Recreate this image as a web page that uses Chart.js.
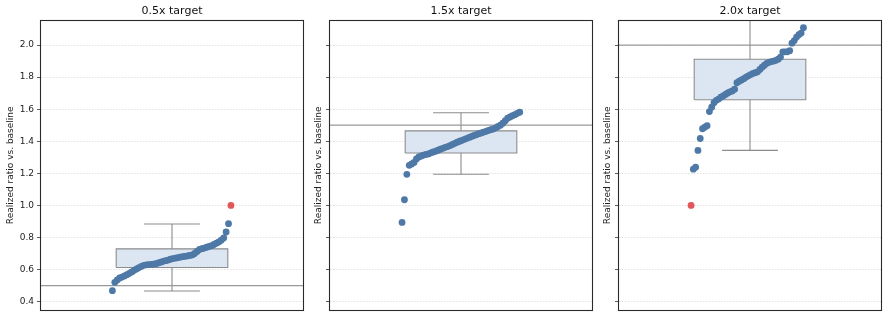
<!DOCTYPE html>
<html><head><meta charset="utf-8">
<script src="https://cdn.jsdelivr.net/npm/chart.js@4.4.0/dist/chart.umd.min.js"></script>
<style>
html,body{margin:0;padding:0;background:#fff;}
#wrap{position:relative;width:889px;height:318px;overflow:hidden;background:#fff;}
canvas{position:absolute;top:0;}
</style></head><body>
<div id="wrap">
<canvas id="c0" width="307" height="318" style="left:0px"></canvas>
<canvas id="c1" width="307" height="318" style="left:289px"></canvas>
<canvas id="c2" width="307" height="318" style="left:578px"></canvas>
</div>
<script>
// ---- data ----
const panelTitles = ['0.5x target', '1.5x target', '2.0x target'];
const targets = [0.5, 1.5, 2.0];
const yTicks = [0.4, 0.6, 0.8, 1.0, 1.2, 1.4, 1.6, 1.8, 2.0];
const yLabel = 'Realized ratio vs. baseline';

const ratios05 = [0.468,0.520,0.535,0.547,0.553,0.560,0.568,0.576,0.585,0.595,
  0.604,0.612,0.620,0.626,0.629,0.631,0.632,0.633,0.636,0.641,
  0.646,0.651,0.655,0.659,0.664,0.668,0.671,0.674,0.677,0.680,
  0.682,0.685,0.688,0.691,0.700,0.713,0.725,0.730,0.734,0.739,
  0.744,0.749,0.756,0.764,0.772,0.783,0.797,0.834,0.886,1.000];
const ratios15 = [0.894,1.035,1.194,1.250,1.258,1.268,1.290,1.302,1.308,1.314,
  1.318,1.321,1.328,1.333,1.338,1.344,1.350,1.356,1.362,1.367,
  1.373,1.380,1.387,1.394,1.400,1.406,1.412,1.418,1.424,1.430,
  1.436,1.441,1.447,1.452,1.457,1.462,1.467,1.472,1.477,1.484,
  1.492,1.500,1.513,1.528,1.544,1.552,1.559,1.566,1.574,1.581];
const ratios20 = [1.000,1.226,1.238,1.343,1.417,1.478,1.488,1.497,1.585,1.612,
  1.640,1.655,1.663,1.675,1.683,1.692,1.701,1.708,1.714,1.725,
  1.765,1.775,1.782,1.790,1.800,1.808,1.816,1.823,1.828,1.833,
  1.848,1.862,1.874,1.886,1.892,1.897,1.900,1.905,1.912,1.925,
  1.957,1.958,1.958,1.965,2.012,2.028,2.050,2.065,2.075,2.108];
const highlighted05 = [49];
const highlighted15 = [];
const highlighted20 = [0];

const boxQ1 = [0.613, 1.327, 1.659];
const boxQ3 = [0.729, 1.465, 1.911];
const whiskerLow = [0.466, 1.194, 1.343];
const whiskerHigh = [0.884, 1.578, 2.25];

// ---- layout / style ----
const series = [ratios05, ratios15, ratios20];
const highlights = [highlighted05, highlighted15, highlighted20];
const spreads = [[-0.455, 0.450], [-0.450, 0.448], [-0.450, 0.408]];
const BOX_HALF = 0.426, CAP_HALF = 0.213;
const BLUE = '#4e79a7', RED = '#e15759', GREY = '#8c8c8c';

Chart.defaults.font.family = '"DejaVu Sans", sans-serif';

const framePlugin = {
  id: 'frame',
  afterDatasetsDraw(chart, args, opts) {
    const {ctx, chartArea: a} = chart;
    ctx.save();
    ctx.strokeStyle = '#2a2a2a';
    ctx.lineWidth = 1.1;
    ctx.strokeRect(Math.round(a.left) - 0.5, Math.round(a.top) - 0.5,
      Math.round(a.right - a.left) + 1, Math.round(a.bottom - a.top) + 1);
    ctx.fillStyle = '#111';
    ctx.font = '11px "DejaVu Sans", sans-serif';
    ctx.textAlign = 'center';
    ctx.textBaseline = 'middle';
    ctx.fillText(opts.text, (a.left + a.right) / 2, 11.5);
    ctx.restore();
  }
};

function line(data, color, width, extra) {
  return Object.assign({data, showLine: true, borderColor: color, borderWidth: width,
    pointRadius: 0, fill: false, tension: 0}, extra || {});
}

for (let k = 0; k < 3; k++) {
  const vals = series[k];
  const N = vals.length;
  const [s, e] = spreads[k];
  const pts = vals.map((v, i) => ({x: s + i * (e - s) / (N - 1), y: v}));
  const red = pts.filter((p, i) => highlights[k].includes(i));
  const blue = pts.filter((p, i) => !highlights[k].includes(i));
  const q1 = boxQ1[k], q3 = boxQ3[k], wl = whiskerLow[k], wh = whiskerHigh[k], t = targets[k];

  const datasets = [
    {data: red, pointRadius: 3.4, pointBackgroundColor: RED, pointBorderWidth: 0, showLine: false},
    {data: blue, pointRadius: 3.4, pointBackgroundColor: BLUE, pointBorderWidth: 0, showLine: false},
    line([{x: -1.1, y: t}, {x: 1.1, y: t}], '#999999', 1.3),
    line([{x: 0, y: q3}, {x: 0, y: wh}], GREY, 1.1),
    line([{x: 0, y: q1}, {x: 0, y: wl}], GREY, 1.1),
    line([{x: -CAP_HALF, y: wh}, {x: CAP_HALF, y: wh}], GREY, 1.1),
    line([{x: -CAP_HALF, y: wl}, {x: CAP_HALF, y: wl}], GREY, 1.1),
    line([{x: -BOX_HALF, y: q1}, {x: BOX_HALF, y: q1}, {x: BOX_HALF, y: q3}, {x: -BOX_HALF, y: q3}, {x: -BOX_HALF, y: q1}], GREY, 1.1),
    line([{x: -BOX_HALF, y: q3}, {x: BOX_HALF, y: q3}], 'rgba(0,0,0,0)', 0, {fill: '+1', backgroundColor: '#dce6f2'}),
    line([{x: -BOX_HALF, y: q1}, {x: BOX_HALF, y: q1}], 'rgba(0,0,0,0)', 0)
  ];

  new Chart(document.getElementById('c' + k), {
    type: 'scatter',
    data: {datasets},
    plugins: [framePlugin],
    options: {
      responsive: false,
      devicePixelRatio: 1,
      animation: false,
      events: [],
      layout: {padding: {top: 21, bottom: 7, right: 3, left: 0}},
      plugins: {legend: {display: false}, tooltip: {enabled: false}, frame: {text: panelTitles[k]}},
      scales: {
        x: {type: 'linear', min: -1, max: 1, display: false},
        y: {
          type: 'linear', min: 0.35, max: 2.15,
          afterBuildTicks: (sc) => { sc.ticks = yTicks.map(v => ({value: v})); },
          afterFit: (sc) => { sc.width = 41; },
          ticks: {
            includeBounds: false,
            padding: 3,
            color: '#222',
            font: {size: 9},
            callback: (v) => k === 0 ? Number(v).toFixed(1) : ''
          },
          grid: {
            color: '#d9d9d9', lineWidth: 0.8, tickLength: 4,
            tickColor: '#333', tickWidth: 0.8, tickBorderDash: []
          },
          border: {display: false, dash: [1.5, 1.5]},
          title: {
            display: true, text: yLabel, color: '#222', font: {size: 9},
            padding: {top: k === 0 ? 5.6 : 24.4, bottom: 0}
          }
        }
      }
    }
  });
}
</script>
</body></html>
